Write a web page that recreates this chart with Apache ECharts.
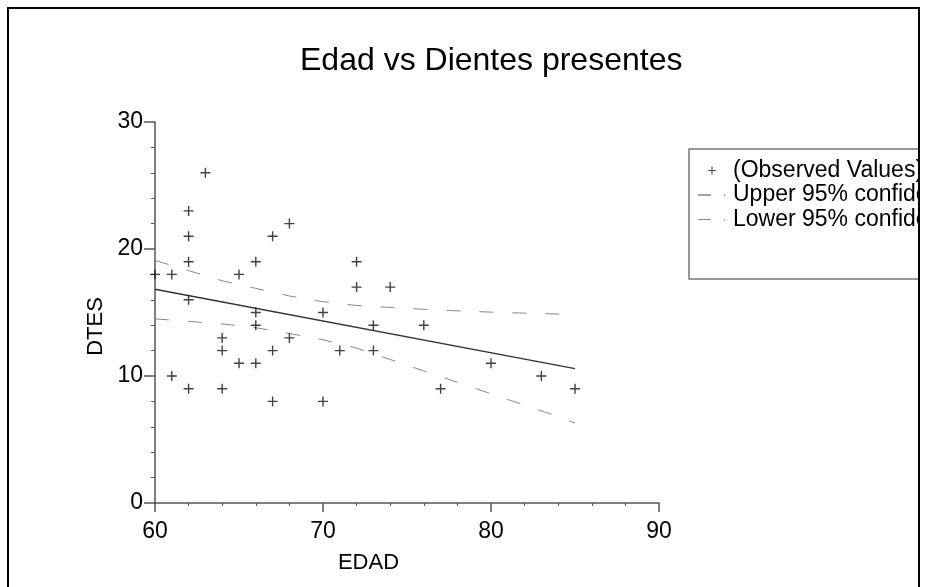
<!DOCTYPE html>
<html>
<head>
<meta charset="utf-8">
<script src="https://cdn.jsdelivr.net/npm/echarts@6/dist/echarts.min.js"></script>
<style>
    html, body { margin: 0; padding: 0; background: #fff; }
    #chart { width: 927px; height: 587px; }
</style>
</head>
<body>
<div id="chart"></div>
<script>
// observed points: [EDAD, DTES]
const observed = [
    [60, 18], [61, 18], [61, 10], [62, 23], [62, 21], [62, 19], [62, 16], [62, 9],
    [63, 26], [64, 13], [64, 12], [64, 9], [65, 18], [65, 11], [66, 19], [66, 15],
    [66, 14], [66, 11], [67, 21], [67, 12], [67, 8], [68, 22], [68, 13], [70, 15],
    [70, 8], [71, 12], [72, 19], [72, 17], [73, 14], [73, 12], [74, 17], [76, 14],
    [77, 9], [80, 11], [83, 10], [85, 9]
];

// fitted line, read at both ends
const fitX = [60, 85];
const fitY = [16.83, 10.58];

// confidence limits
const ciX = [60, 62, 64, 66, 68, 70, 72, 74, 76, 78, 80, 82, 84, 85];
const upperY = [19.1, 18.3, 17.5, 16.9, 16.3, 15.85, 15.55, 15.4, 15.25, 15.13, 15.03, 14.95, 14.88, 14.86];
const lowerY = [14.5, 14.3, 14.1, 13.8, 13.35, 12.85, 12.2, 11.3, 10.4, 9.5, 8.6, 7.7, 6.8, 6.3];

const xTicks = { min: 60, max: 90, interval: 10 };
const yTicks = { min: 0, max: 30, interval: 10 };

const legendNames = ['(Observed Values)', 'Upper 95% confidence limit', 'Lower 95% confidence limit'];

const FONT = 'Liberation Sans, Arial, sans-serif';
const PLUS = 'path://M-0.7,-5H0.7V-0.7H5V0.7H0.7V5H-0.7V0.7H-5V-0.7H-0.7Z';
// legend icons inside a 30x14 box (corner specks fix the box)
const BOX = 'M0,0h0.01v0.01h-0.01Z M30,14h0.01v0.01h-0.01Z ';
const ICON_PLUS = 'path://' + BOX + 'M13.4,3h1.2v3.4h3.4v1.2h-3.4v3.4h-1.2v-3.4h-3.4v-1.2h3.4Z';
const ICON_DASH = 'path://' + BOX + 'M0,6.4h13v1.2h-13Z M26,6.4h1.2v1.2h-1.2Z';

const zip = (xs, ys) => xs.map((x, i) => [x, ys[i]]);

const axisCommon = {
    axisLine: { lineStyle: { color: '#555', width: 1.5 } },
    splitLine: { show: false },
    minorTick: { show: true, splitNumber: 5, length: 4, lineStyle: { color: '#555', width: 1 } },
    nameTextStyle: { color: '#000', fontSize: 22, fontFamily: FONT },
    axisLabel: { color: '#000', fontSize: 23, fontFamily: FONT }
};

const option = {
    animation: false,
    backgroundColor: '#fff',
    title: {
        text: 'Edad vs Dientes presentes',
        left: 295,
        top: 40,
        textStyle: { color: '#000', fontSize: 32, fontWeight: 'normal', fontFamily: FONT }
    },
    legend: {
        orient: 'vertical',
        left: 689,
        top: 149,
        padding: [10, 80, 48, 9],
        itemWidth: 30,
        itemHeight: 14,
        itemGap: 1.5,
        borderColor: '#777',
        borderWidth: 1.5,
        selectedMode: false,
        textStyle: { color: '#000', fontSize: 23, lineHeight: 23, fontFamily: FONT },
        data: [
            { name: legendNames[0], icon: ICON_PLUS, itemStyle: { color: '#222', borderWidth: 0 } },
            { name: legendNames[1], icon: ICON_DASH, itemStyle: { color: '#444', borderWidth: 0 } },
            { name: legendNames[2], icon: ICON_DASH, itemStyle: { color: '#888', borderWidth: 0 } }
        ]
    },
    grid: { left: 155, right: 268, top: 122, bottom: 84 },
    xAxis: Object.assign({}, axisCommon, {
        type: 'value',
        min: xTicks.min,
        max: xTicks.max,
        interval: xTicks.interval,
        name: 'EDAD',
        nameLocation: 'middle',
        nameGap: 49,
        nameTextStyle: Object.assign({}, axisCommon.nameTextStyle, { padding: [0, 77, 0, 0] }),
        axisTick: { length: 9, lineStyle: { color: '#555', width: 1.5 } },
        minorTick: Object.assign({}, axisCommon.minorTick, { length: 3 }),
        axisLabel: Object.assign({}, axisCommon.axisLabel, { margin: 17 })
    }),
    yAxis: Object.assign({}, axisCommon, {
        type: 'value',
        min: yTicks.min,
        max: yTicks.max,
        interval: yTicks.interval,
        name: 'DTES',
        nameLocation: 'middle',
        nameGap: 41,
        nameTextStyle: Object.assign({}, axisCommon.nameTextStyle, { padding: [0, 28, 0, 0] }),
        axisTick: { length: 11, lineStyle: { color: '#555', width: 1.5 } },
        axisLabel: Object.assign({}, axisCommon.axisLabel, { margin: 12 })
    }),
    series: [
        {
            name: legendNames[0],
            type: 'scatter',
            symbol: PLUS,
            symbolSize: 10,
            itemStyle: { color: '#111' },
            data: observed,
            z: 4
        },
        {
            name: 'fit',
            type: 'line',
            symbol: 'none',
            lineStyle: { color: '#333', width: 1.5 },
            data: zip(fitX, fitY),
            z: 3
        },
        {
            name: legendNames[1],
            type: 'line',
            symbol: 'none',
            itemStyle: { color: '#777' },
            lineStyle: { color: '#888', width: 1, type: [14, 19] },
            data: zip(ciX, upperY)
        },
        {
            name: legendNames[2],
            type: 'line',
            symbol: 'none',
            itemStyle: { color: '#777' },
            lineStyle: { color: '#888', width: 1, type: [14, 19] },
            data: zip(ciX, lowerY)
        }
    ],
    graphic: [
        // page cut off at the right edge
        { type: 'rect', z: 100, shape: { x: 920, y: 0, width: 10, height: 587 }, style: { fill: '#fff' } },
        { type: 'rect', z: 101, shape: { x: 8, y: 8, width: 911, height: 620 },
          style: { fill: 'none', stroke: '#000', lineWidth: 2 } }
    ]
};

const chart = echarts.init(document.getElementById('chart'));
chart.setOption(option);
</script>
</body>
</html>
